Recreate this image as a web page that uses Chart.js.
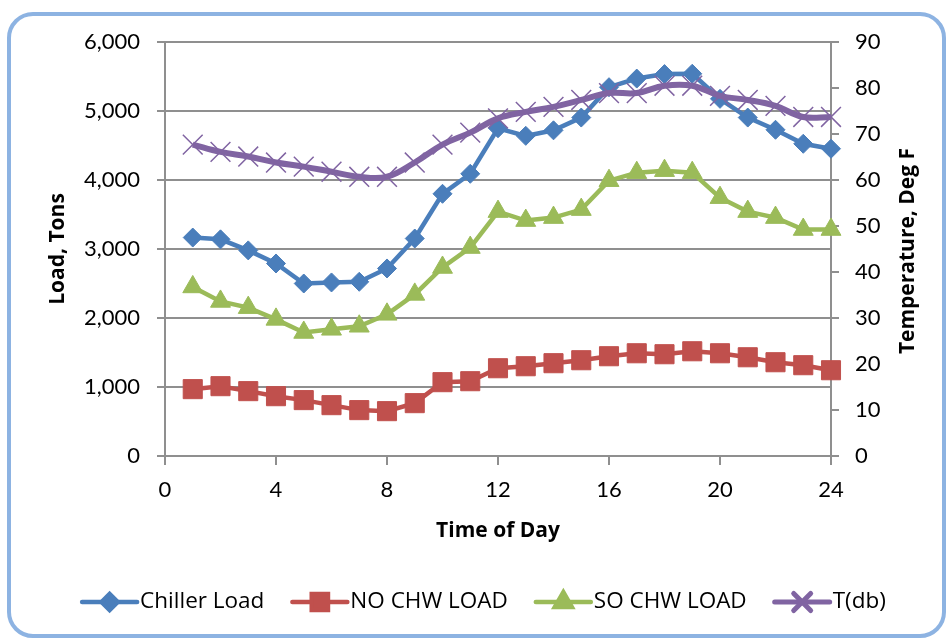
<!DOCTYPE html>
<html>
<head>
<meta charset="utf-8">
<script src="https://cdn.jsdelivr.net/npm/chart.js@4.4.0/dist/chart.umd.min.js"></script>
<style>
  html, body { margin: 0; padding: 0; background: #ffffff; }
  #wrap { width: 946px; height: 638px; position: relative; }
</style>
</head>
<body>
<div id="wrap"><canvas id="c" width="946" height="638"></canvas></div>
<script>
// Hourly plant data
const hours = [1, 2, 3, 4, 5, 6, 7, 8, 9, 10, 11, 12, 13, 14, 15, 16, 17, 18, 19, 20, 21, 22, 23, 24];
const chillerLoad = [3166, 3140, 2980, 2790, 2500, 2515, 2525, 2718, 3152, 3800, 4090, 4750, 4640, 4720, 4905, 5345, 5470, 5535, 5540, 5176, 4905, 4728, 4525, 4453];
const noChwLoad = [969, 1012, 940, 867, 810, 737, 665, 650, 766, 1070, 1084, 1272, 1301, 1345, 1388, 1446, 1489, 1475, 1518, 1489, 1431, 1359, 1316, 1243];
const soChwLoad = [2450, 2240, 2150, 1980, 1790, 1836, 1880, 2053, 2342, 2732, 3021, 3542, 3412, 3455, 3571, 3990, 4106, 4135, 4106, 3744, 3542, 3455, 3282, 3282];
const tempDb = [67.7, 66.1, 65.1, 63.8, 62.9, 61.8, 60.7, 60.7, 63.8, 67.7, 70.3, 73.4, 74.8, 75.9, 77.4, 78.9, 78.9, 80.5, 80.5, 78.3, 77.4, 76.1, 73.7, 73.7];

const seriesNames = ['Chiller Load', 'NO CHW LOAD', 'SO CHW LOAD', 'T(db)'];
const axisTitles = { load: 'Load, Tons', temp: 'Temperature, Deg F', time: 'Time of Day' };

const FONT = 'Lato, "Open Sans", "Liberation Sans", sans-serif';
const TEXT_FONT = '"Open Sans", Lato, "Liberation Sans", sans-serif';
const GRID = '#8f8f8f';

const toPoints = (ys) => hours.map((h, i) => ({ x: h, y: ys[i] }));

const styles = [
  { color: '#4a7ebb', pointStyle: 'rectRot', radius: 9.5, lineWidth: 4.5 },
  { color: '#c0504d', pointStyle: 'rect', radius: 13.5, lineWidth: 4.5 },
  { color: '#9bbb59', pointStyle: 'triangle', radius: 11.5, lineWidth: 4.5 },
  { color: '#8064a2', pointStyle: 'crossRot', radius: 14, lineWidth: 6 }
];

function makeSet(i, data, axis, tension) {
  const s = styles[i];
  const cross = s.pointStyle === 'crossRot';
  return {
    label: seriesNames[i],
    data: toPoints(data),
    yAxisID: axis,
    borderColor: s.color,
    backgroundColor: s.color,
    borderWidth: s.lineWidth,
    pointStyle: s.pointStyle,
    pointRadius: s.radius,
    pointHoverRadius: s.radius,
    pointBorderWidth: cross ? 1.5 : 1,
    pointBorderColor: s.color,
    pointBackgroundColor: s.color,
    tension: tension,
    clip: false,
    order: 4 - i
  };
}

// Rounded frame around the whole chart
const framePlugin = {
  id: 'frame',
  beforeDraw(chart) {
    const ctx = chart.ctx;
    ctx.save();
    ctx.fillStyle = '#ffffff';
    ctx.fillRect(0, 0, chart.width, chart.height);
    const x = 9, y = 14, w = 935, h = 622, r = 24;
    ctx.beginPath();
    ctx.moveTo(x + r, y);
    ctx.lineTo(x + w - r, y);
    ctx.arcTo(x + w, y, x + w, y + r, r);
    ctx.lineTo(x + w, y + h - r);
    ctx.arcTo(x + w, y + h, x + w - r, y + h, r);
    ctx.lineTo(x + r, y + h);
    ctx.arcTo(x, y + h, x, y + h - r, r);
    ctx.lineTo(x, y + r);
    ctx.arcTo(x, y, x + r, y, r);
    ctx.closePath();
    ctx.lineWidth = 4;
    ctx.strokeStyle = '#8db3e2';
    ctx.stroke();
    ctx.restore();
  }
};

// Axis titles (the secondary title reads bottom-to-top as well)
const titlePlugin = {
  id: 'axisTitles',
  afterDraw(chart) {
    const ctx = chart.ctx;
    const ca = chart.chartArea;
    const midY = (ca.top + ca.bottom) / 2;
    const draw = (text, x, y, rotate) => {
      ctx.save();
      ctx.fillStyle = '#000000';
      ctx.font = 'bold 21px ' + TEXT_FONT;
      ctx.textAlign = 'center';
      ctx.textBaseline = 'middle';
      ctx.translate(x, y);
      if (rotate) ctx.rotate(-Math.PI / 2);
      ctx.fillText(text, 0, 0);
      ctx.restore();
    };
    draw(axisTitles.time, (ca.left + ca.right) / 2, 531, false);
    draw(axisTitles.load, 58, midY, true);
    draw(axisTitles.temp, 908, midY + 2, true);
  }
};

// Legend with line + marker samples along the bottom
const legendPlugin = {
  id: 'lineLegend',
  afterDraw(chart) {
    const ctx = chart.ctx;
    const lineLen = 55, textGap = 3, itemGap = 28, cy = 602, centerX = 484;
    ctx.save();
    ctx.font = '22.5px ' + TEXT_FONT;
    const widths = seriesNames.map(n => ctx.measureText(n).width);
    const total = widths.reduce((a, w) => a + lineLen + textGap + w, 0) + itemGap * (seriesNames.length - 1);
    let x = centerX - total / 2;
    seriesNames.forEach((name, i) => {
      const s = styles[i];
      ctx.beginPath();
      ctx.moveTo(x, cy);
      ctx.lineTo(x + lineLen, cy);
      ctx.lineWidth = Math.min(s.lineWidth, 5);
      ctx.strokeStyle = s.color;
      ctx.lineCap = 'round';
      ctx.stroke();
      ctx.fillStyle = s.color;
      ctx.strokeStyle = s.color;
      Chart.helpers.drawPoint(ctx, {
        pointStyle: s.pointStyle,
        radius: s.pointStyle === 'crossRot' ? 12 : s.radius * 0.85,
        borderWidth: s.pointStyle === 'crossRot' ? 1.5 : 1,
        rotation: 0
      }, x + lineLen / 2, cy);
      ctx.fillStyle = '#000000';
      ctx.textAlign = 'left';
      ctx.textBaseline = 'middle';
      ctx.fillText(name, x + lineLen + textGap, cy);
      x += lineLen + textGap + widths[i] + itemGap;
    });
    ctx.restore();
  }
};

new Chart(document.getElementById('c'), {
  type: 'line',
  data: {
    datasets: [
      makeSet(0, chillerLoad, 'y', 0),
      makeSet(1, noChwLoad, 'y', 0),
      makeSet(2, soChwLoad, 'y', 0),
      makeSet(3, tempDb, 'y1', 0.4)
    ]
  },
  options: {
    responsive: false,
    animation: false,
    devicePixelRatio: 1,
    layout: { padding: { left: 0, right: 0, top: 42, bottom: 0 } },
    plugins: { legend: { display: false }, tooltip: { enabled: false } },
    scales: {
      x: {
        type: 'linear',
        min: 0, max: 24,
        ticks: { stepSize: 4, color: '#000', font: { family: FONT, size: 22 }, padding: 12, maxRotation: 0 },
        grid: { drawOnChartArea: false, tickLength: 9, color: GRID, lineWidth: 2 },
        border: { color: GRID, width: 2 },
        afterFit(s) { s.height = 638 - 456; }
      },
      y: {
        position: 'left',
        min: 0, max: 6000,
        ticks: {
          stepSize: 1000, color: '#000', font: { family: FONT, size: 22 }, padding: 17,
          callback: v => v.toLocaleString('en-US')
        },
        grid: { color: GRID, lineWidth: 2, tickLength: 8 },
        border: { color: GRID, width: 2 },
        afterFit(s) { s.width = 165; }
      },
      y1: {
        position: 'right',
        min: 0, max: 90,
        ticks: { stepSize: 10, color: '#000', font: { family: FONT, size: 22 }, padding: 16 },
        grid: { drawOnChartArea: false, color: GRID, lineWidth: 2, tickLength: 8 },
        border: { color: GRID, width: 2 },
        afterFit(s) { s.width = 946 - 831; }
      }
    }
  },
  plugins: [framePlugin, titlePlugin, legendPlugin]
});
</script>
</body>
</html>
